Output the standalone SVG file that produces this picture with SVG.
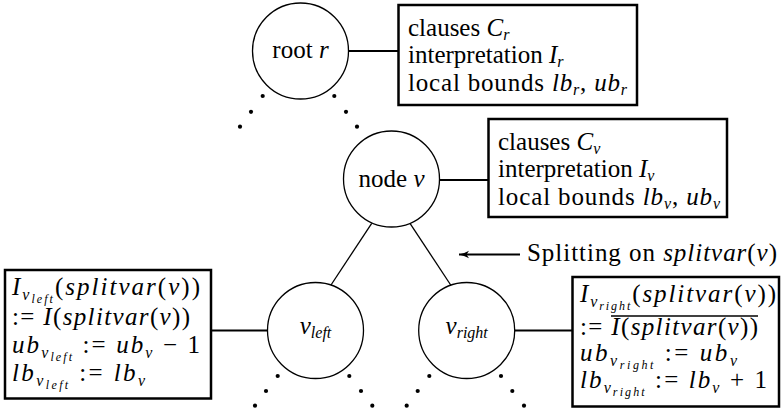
<svg xmlns="http://www.w3.org/2000/svg" width="781" height="416" viewBox="0 0 781 416">
<rect x="0" y="0" width="781" height="416" fill="#fff"/>
<defs>
<marker id="ah" markerUnits="userSpaceOnUse" markerWidth="12" markerHeight="10" refX="11" refY="5" orient="auto">
<path d="M1,1.2 Q6,4 11,5 Q6,6 1,8.8 L3.5,5 Z" fill="#000"/>
</marker>
</defs>

<g id="connectors" stroke="#000" stroke-width="2" fill="none">
<line x1="348.5" y1="51" x2="398.5" y2="51"/>
<line x1="439.5" y1="180" x2="488.5" y2="180"/>
<line x1="211" y1="330.5" x2="267.5" y2="330.5"/>
<line x1="514.7" y1="330.5" x2="572.5" y2="330.5"/>
<line x1="371.7" y1="223.3" x2="331" y2="285" stroke-width="1.3"/>
<line x1="410" y1="223.3" x2="450.7" y2="285" stroke-width="1.3"/>
<line x1="520" y1="254.5" x2="459" y2="254.5" marker-end="url(#ah)"/>
</g>

<g id="dots" fill="#000">
<circle cx="262.7" cy="96" r="2.1"/>
<circle cx="251" cy="111.8" r="2.1"/>
<circle cx="240" cy="126.7" r="2.1"/>
<circle cx="334.3" cy="96" r="2.1"/>
<circle cx="346" cy="111.8" r="2.1"/>
<circle cx="357" cy="126.7" r="2.1"/>
<circle cx="277.7" cy="376" r="2.1"/>
<circle cx="266" cy="391" r="2.1"/>
<circle cx="255" cy="405.7" r="2.1"/>
<circle cx="349.3" cy="376" r="2.1"/>
<circle cx="361" cy="391" r="2.1"/>
<circle cx="372.3" cy="405.7" r="2.1"/>
<circle cx="429.3" cy="376" r="2.1"/>
<circle cx="417.7" cy="391" r="2.1"/>
<circle cx="406.7" cy="405.7" r="2.1"/>
<circle cx="501" cy="376" r="2.1"/>
<circle cx="512.3" cy="391" r="2.1"/>
<circle cx="524" cy="405.7" r="2.1"/>
</g>

<g id="root">
<circle cx="300.5" cy="51" r="48" fill="#fff" stroke="#000" stroke-width="1.3"/>
<text font-family="serif" font-size="25" x="300.5" y="58" text-anchor="middle">root <tspan font-style="italic">r</tspan></text>
</g>

<g id="root-info">
<rect x="398.5" y="5" width="238.5" height="100" fill="#fff" stroke="#000" stroke-width="2.5"/>
<text font-family="Times New Roman" font-size="25" x="408" y="36">clauses <tspan font-style="italic">C</tspan><tspan font-style="italic" font-size="16" dy="4">r</tspan></text>
<text font-family="Times New Roman" font-size="25" x="408" y="63.3">interpretation <tspan font-style="italic">I</tspan><tspan font-style="italic" font-size="16" dy="4">r</tspan></text>
<text font-family="Times New Roman" font-size="25" x="408" y="90.7" textLength="219" lengthAdjust="spacing">local bounds <tspan font-style="italic">lb</tspan><tspan font-style="italic" font-size="16" dy="4">r</tspan><tspan dy="-4">, </tspan><tspan font-style="italic">ub</tspan><tspan font-style="italic" font-size="16" dy="4">r</tspan></text>
</g>

<g id="node-v">
<circle cx="391.5" cy="179" r="48" fill="#fff" stroke="#000" stroke-width="1.3"/>
<text font-family="Tinos" font-size="25" x="391.5" y="187" text-anchor="middle">node <tspan font-style="italic">v</tspan></text>
</g>

<g id="v-info">
<rect x="488.5" y="119" width="238.5" height="98" fill="#fff" stroke="#000" stroke-width="2.5"/>
<text font-family="Liberation Serif" font-size="25" x="498" y="150">clauses <tspan font-style="italic">C</tspan><tspan font-style="italic" font-size="16" dy="4">v</tspan></text>
<text font-family="Liberation Serif" font-size="25" x="498" y="177.3">interpretation <tspan font-style="italic">I</tspan><tspan font-style="italic" font-size="16" dy="4">v</tspan></text>
<text font-family="Liberation Serif" font-size="25" x="498" y="204.7" textLength="222" lengthAdjust="spacing">local bounds <tspan font-style="italic">lb</tspan><tspan font-style="italic" font-size="16" dy="4">v</tspan><tspan dy="-4">, </tspan><tspan font-style="italic">ub</tspan><tspan font-style="italic" font-size="16" dy="4">v</tspan></text>
</g>

<g id="split-label">
<text font-family="Liberation Serif" font-size="25" x="527" y="261" textLength="250" lengthAdjust="spacing">Splitting on <tspan font-style="italic">splitvar</tspan>(<tspan font-style="italic">v</tspan>)</text>
</g>

<g id="v-left">
<circle cx="315.5" cy="330.5" r="48" fill="#fff" stroke="#000" stroke-width="1.3"/>
<text font-family="Liberation Serif" font-size="25" x="315.5" y="334" text-anchor="middle"><tspan font-style="italic">v</tspan><tspan font-style="italic" font-size="16" dy="4">left</tspan></text>
</g>

<g id="v-right">
<circle cx="466.7" cy="330.5" r="48" fill="#fff" stroke="#000" stroke-width="1.3"/>
<text font-family="Liberation Serif" font-size="25" x="466.7" y="334" text-anchor="middle"><tspan font-style="italic">v</tspan><tspan font-style="italic" font-size="16" dy="4">right</tspan></text>
</g>

<g id="left-info">
<rect x="5" y="270" width="206" height="128.5" fill="#fff" stroke="#000" stroke-width="2.5"/>
<text font-family="Liberation Serif" font-size="25" x="12" y="295" textLength="188" lengthAdjust="spacing"><tspan font-style="italic">I</tspan><tspan font-style="italic" font-size="16" dy="5">v</tspan><tspan font-style="italic" font-size="12" dy="3">left</tspan><tspan dy="-8">(</tspan><tspan font-style="italic">splitvar</tspan>(<tspan font-style="italic">v</tspan>))</text>
<text font-family="Liberation Serif" font-size="25" x="12" y="325" textLength="178" lengthAdjust="spacing">:= <tspan font-style="italic">I</tspan>(<tspan font-style="italic">splitvar</tspan>(<tspan font-style="italic">v</tspan>))</text>
<text font-family="Liberation Serif" font-size="25" x="12" y="353" textLength="188" lengthAdjust="spacing"><tspan font-style="italic">ub</tspan><tspan font-style="italic" font-size="16" dy="5">v</tspan><tspan font-style="italic" font-size="12" dy="3">left</tspan><tspan dy="-8"> := </tspan><tspan font-style="italic">ub</tspan><tspan font-style="italic" font-size="16" dy="5">v</tspan><tspan dy="-5"> − 1</tspan></text>
<text font-family="Liberation Serif" font-size="25" x="12" y="381" textLength="133" lengthAdjust="spacing"><tspan font-style="italic">lb</tspan><tspan font-style="italic" font-size="16" dy="5">v</tspan><tspan font-style="italic" font-size="12" dy="3">left</tspan><tspan dy="-8"> := </tspan><tspan font-style="italic">lb</tspan><tspan font-style="italic" font-size="16" dy="5">v</tspan></text>
</g>

<g id="right-info">
<rect x="572.5" y="277" width="206.5" height="129.5" fill="#fff" stroke="#000" stroke-width="2.5"/>
<text font-family="Liberation Serif" font-size="25" x="580" y="302" textLength="196" lengthAdjust="spacing"><tspan font-style="italic">I</tspan><tspan font-style="italic" font-size="16" dy="5">v</tspan><tspan font-style="italic" font-size="12" dy="3">right</tspan><tspan dy="-8">(</tspan><tspan font-style="italic">splitvar</tspan>(<tspan font-style="italic">v</tspan>))</text>
<text font-family="Liberation Serif" font-size="25" x="580" y="335" textLength="178" lengthAdjust="spacing">:= <tspan font-style="italic">I</tspan>(<tspan font-style="italic">splitvar</tspan>(<tspan font-style="italic">v</tspan>))</text>
<line x1="611" y1="316" x2="758" y2="316" stroke="#000" stroke-width="1.5"/>
<text font-family="Liberation Serif" font-size="25" x="580" y="361" textLength="157" lengthAdjust="spacing"><tspan font-style="italic">ub</tspan><tspan font-style="italic" font-size="16" dy="5">v</tspan><tspan font-style="italic" font-size="12" dy="3">right</tspan><tspan dy="-8"> := </tspan><tspan font-style="italic">ub</tspan><tspan font-style="italic" font-size="16" dy="5">v</tspan></text>
<text font-family="Liberation Serif" font-size="25" x="580" y="388" textLength="187" lengthAdjust="spacing"><tspan font-style="italic">lb</tspan><tspan font-style="italic" font-size="16" dy="5">v</tspan><tspan font-style="italic" font-size="12" dy="3">right</tspan><tspan dy="-8"> := </tspan><tspan font-style="italic">lb</tspan><tspan font-style="italic" font-size="16" dy="5">v</tspan><tspan dy="-5"> + 1</tspan></text>
</g>
</svg>
